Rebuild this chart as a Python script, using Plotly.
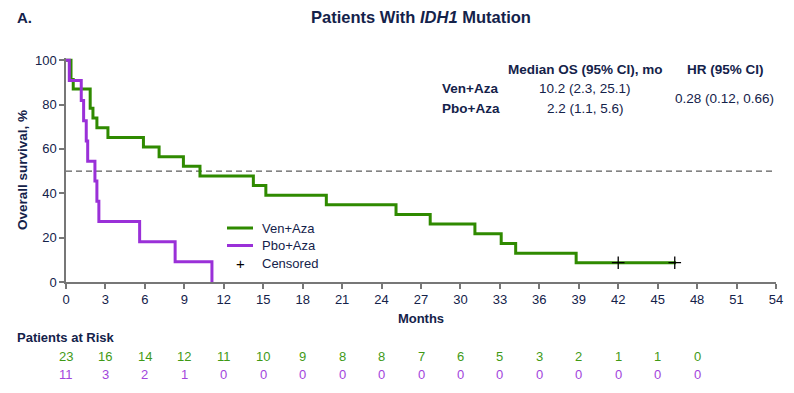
import plotly.graph_objects as go

# ---------------- data ----------------
ven_time = [0, 0.38, 0.55, 1.84, 2.05, 2.35, 3.19, 5.89, 7.08, 8.93, 10.19, 14.25,
            15.2, 19.8, 25.1, 27.7, 31.1, 33.1, 34.2, 38.8, 46.4]
ven_surv = [100, 91.3, 87.0, 78.3, 73.9, 69.6, 65.2, 60.9, 56.5, 52.2, 47.8, 43.5,
            39.1, 34.8, 30.4, 26.1, 21.7, 17.4, 13.0, 8.7, 8.7]

pbo_time = [0, 0.25, 1.16, 1.34, 1.54, 1.65, 2.2, 2.35, 2.5, 5.6, 8.3, 11.1]
pbo_surv = [100, 90.9, 81.8, 72.7, 63.6, 54.5, 45.5, 36.4, 27.3, 18.2, 9.1, 0]

cens_time = [42.0, 46.3]
cens_surv = [8.7, 8.7]

risk_months = [0, 3, 6, 9, 12, 15, 18, 21, 24, 27, 30, 33, 36, 39, 42, 45, 48]
ven_risk = [23, 16, 14, 12, 11, 10, 9, 8, 8, 7, 6, 5, 3, 2, 1, 1, 0]
pbo_risk = [11, 3, 2, 1, 0, 0, 0, 0, 0, 0, 0, 0, 0, 0, 0, 0, 0]

x_ticks = list(range(0, 55, 3))
y_ticks = [0, 20, 40, 60, 80, 100]

legend_names = ["Ven+Aza", "Pbo+Aza", "Censored"]

table_header = ["Median OS (95% CI), mo", "HR (95% CI)"]
table_arms = ["Ven+Aza", "Pbo+Aza"]
table_median = ["10.2 (2.3, 25.1)", "2.2 (1.1, 5.6)"]
table_hr = "0.28 (0.12, 0.66)"

# ---------------- style ----------------
GREEN = "#2f8a00"
GREEN_TXT = "#3f9a16"
PURPLE = "#9a30d8"
PURPLE_TXT = "#a244dc"
NAVY = "#14224a"
AXIS = "#777777"
FONT = "Arial, Liberation Sans, sans-serif"

# page body has an 8px default margin: compensate so the chart fills the window
OFF = 8
W, H = 794 - OFF, 393 - OFF
L, R, T, B = 66 - OFF, 18, 58 - OFF, 111
PH = H - T - B
PW = W - L - R


def px_x(p):
    return (p - OFF - L) / PW


def px_y(p):
    return (H - B - (p - OFF)) / PH


fig = go.Figure()
fig.add_trace(go.Scatter(x=ven_time, y=ven_surv, mode="lines", name=legend_names[0],
                         line=dict(color=GREEN, width=3, shape="hv"), showlegend=False))
fig.add_trace(go.Scatter(x=pbo_time, y=pbo_surv, mode="lines", name=legend_names[1],
                         line=dict(color=PURPLE, width=3, shape="hv"), showlegend=False))
fig.add_trace(go.Scatter(x=cens_time, y=cens_surv, mode="markers", name=legend_names[2],
                         marker=dict(symbol="cross-thin", size=9, color="black",
                                     line=dict(color="black", width=1.3)),
                         showlegend=False))

fig.add_shape(type="line", xref="x", yref="y", x0=0, x1=54, y0=50, y1=50,
              line=dict(color="#333333", width=1, dash="6px,4px"), layer="below")

ann = []
# manual legend (tight row spacing as in the reference)
leg_rows = [228, 245.5, 263]
for name, col, yy in zip(legend_names[:2], [GREEN, PURPLE], leg_rows[:2]):
    fig.add_shape(type="line", xref="paper", yref="paper",
                  x0=px_x(227), x1=px_x(253), y0=px_y(yy), y1=px_y(yy),
                  line=dict(color=col, width=3))
for name, yy in zip(legend_names, leg_rows):
    ann.append(dict(text=name, x=px_x(260), y=px_y(yy), xref="paper", yref="paper",
                    xanchor="left", yanchor="middle", showarrow=False,
                    font=dict(size=13, color=NAVY)))
ann.append(dict(text="+", x=px_x(240), y=px_y(leg_rows[2]), xref="paper", yref="paper",
                xanchor="center", yanchor="middle", showarrow=False,
                font=dict(size=15, color="black")))

ann.append(dict(text="<b>A.</b>", x=px_x(15), y=px_y(17), xref="paper", yref="paper",
                xanchor="left", yanchor="middle", showarrow=False,
                font=dict(size=15, color=NAVY)))
# table
TS = 13.5
ann.append(dict(text="<b>%s</b>" % table_header[0], x=px_x(585), y=px_y(69), xref="paper",
                yref="paper", xanchor="center", yanchor="middle", showarrow=False,
                font=dict(size=TS, color=NAVY)))
ann.append(dict(text="<b>%s</b>" % table_header[1], x=px_x(725), y=px_y(69), xref="paper",
                yref="paper", xanchor="center", yanchor="middle", showarrow=False,
                font=dict(size=TS, color=NAVY)))
for i, (arm, med) in enumerate(zip(table_arms, table_median)):
    yy = px_y(88 + 20 * i)
    ann.append(dict(text="<b>%s</b>" % arm, x=px_x(440), y=yy, xref="paper", yref="paper",
                    xanchor="left", yanchor="middle", showarrow=False,
                    font=dict(size=TS, color=NAVY)))
    ann.append(dict(text=med, x=px_x(585), y=yy, xref="paper", yref="paper",
                    xanchor="center", yanchor="middle", showarrow=False,
                    font=dict(size=TS, color=NAVY)))
ann.append(dict(text=table_hr, x=px_x(724), y=px_y(98), xref="paper", yref="paper",
                xanchor="center", yanchor="middle", showarrow=False,
                font=dict(size=TS, color=NAVY)))
# risk table
ann.append(dict(text="<b>Patients at Risk</b>", x=px_x(15), y=px_y(337), xref="paper",
                yref="paper", xanchor="left", yanchor="middle", showarrow=False,
                font=dict(size=13, color=NAVY)))
for m, v, p in zip(risk_months, ven_risk, pbo_risk):
    ann.append(dict(text=str(v), x=m, y=px_y(356), xref="x", yref="paper",
                    xanchor="center", yanchor="middle", showarrow=False,
                    font=dict(size=13, color=GREEN_TXT)))
    ann.append(dict(text=str(p), x=m, y=px_y(374), xref="x", yref="paper",
                    xanchor="center", yanchor="middle", showarrow=False,
                    font=dict(size=13, color=PURPLE_TXT)))

fig.update_layout(
    width=W, height=H,
    margin=dict(l=L, r=R, t=T, b=B, autoexpand=False),
    paper_bgcolor="white", plot_bgcolor="white",
    font=dict(family=FONT, color=NAVY, size=13),
    title=dict(text="<b>Patients With <i>IDH1</i> Mutation</b>", x=0.5, xref="paper",
               xanchor="center", y=1 - (17 - OFF) / H, yref="container", yanchor="middle",
               font=dict(size=16.5, color=NAVY)),
    showlegend=False,
    annotations=ann,
    xaxis=dict(range=[0, 54], tickvals=x_ticks, showgrid=False, zeroline=False,
               showline=True, linecolor=AXIS, linewidth=1.5, automargin=False,
               ticks="outside", ticklen=5, tickwidth=1.5, tickcolor=AXIS,
               tickfont=dict(size=13, color=NAVY),
               title=dict(text="<b>Months</b>", font=dict(size=13, color=NAVY), standoff=8)),
    yaxis=dict(range=[0, 101], tickvals=y_ticks, showgrid=False, zeroline=False,
               showline=True, linecolor=AXIS, linewidth=1.5, automargin=False,
               ticks="outside", ticklen=5, tickwidth=1.5, tickcolor=AXIS,
               tickfont=dict(size=13, color=NAVY),
               title=dict(text="<b>Overall survival, %</b>", font=dict(size=13.5, color=NAVY),
                          standoff=4)),
)

fig.write_html("out.html")
